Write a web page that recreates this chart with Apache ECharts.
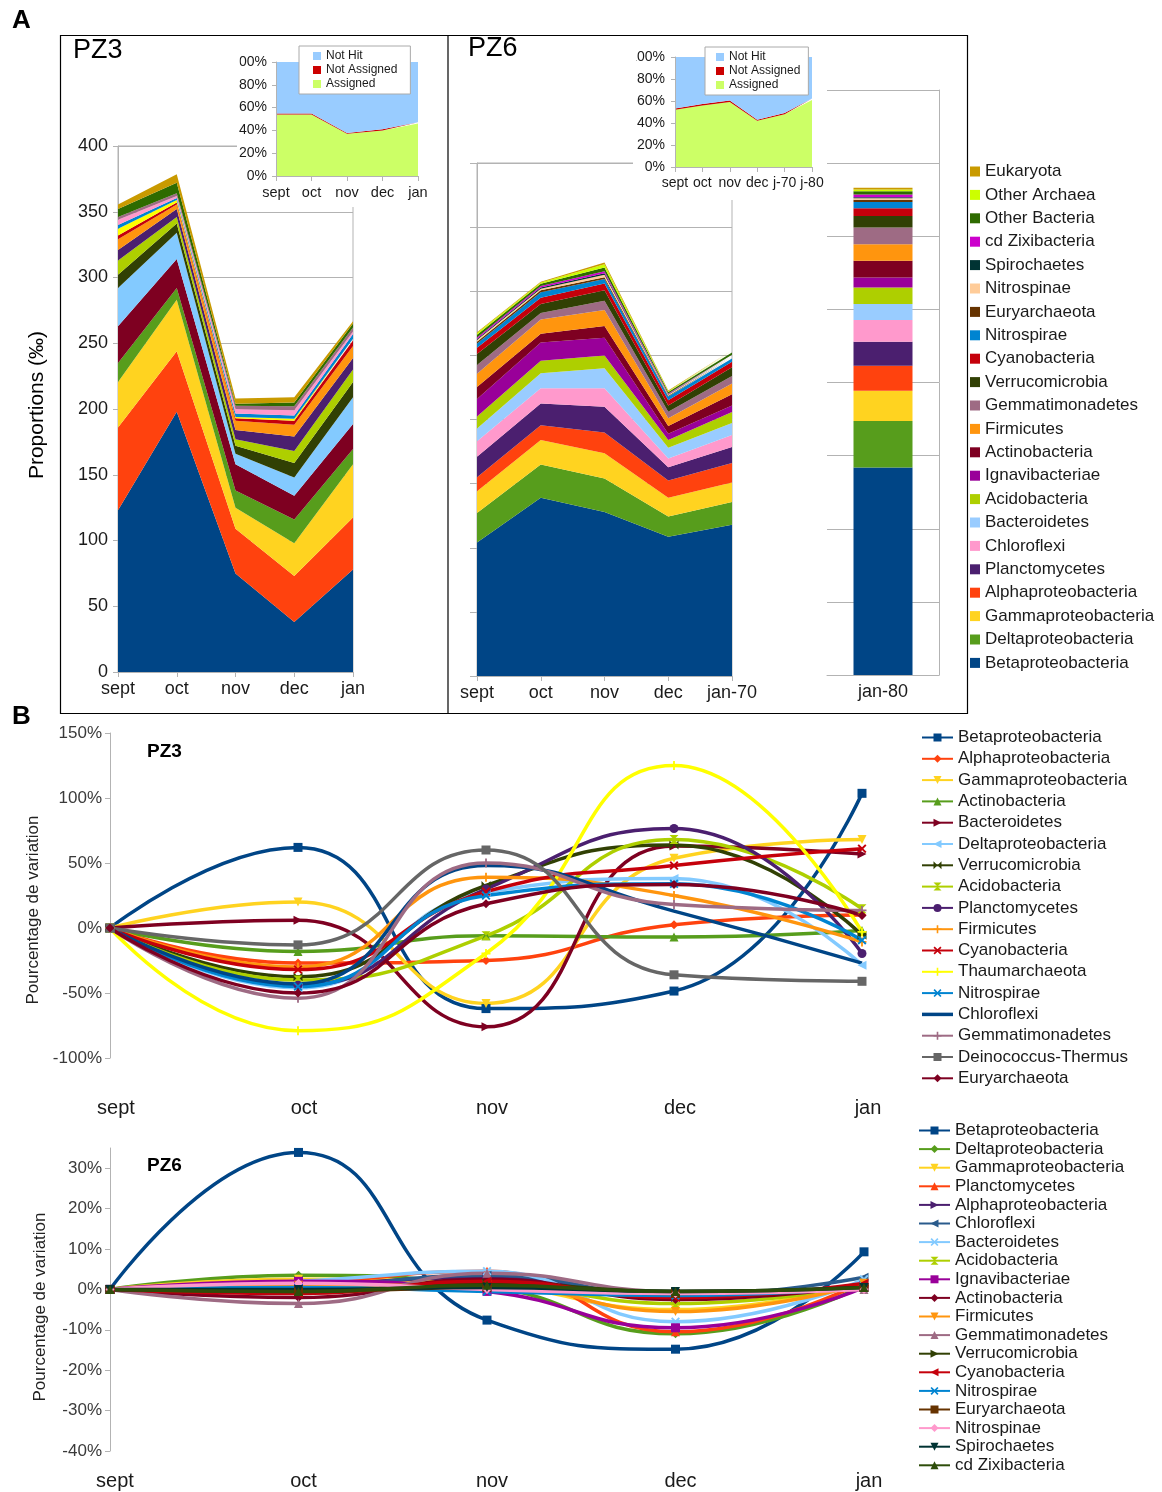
<!DOCTYPE html>
<html>
<head>
<meta charset="utf-8">
<script src="https://cdn.jsdelivr.net/npm/echarts@6/dist/echarts.min.js"></script>
<style>
  html, body { margin: 0; padding: 0; background: #fff; }
  #container { width: 1162px; height: 1492px; }
</style>
</head>
<body>
<div id="container"></div>
<script>
// ---------- panel A : PZ3 stacked proportions (per mille) ----------
const monthsPZ3 = ['sept', 'oct', 'nov', 'dec', 'jan'];
const pz3Taxa = ['Betaproteobacteria', 'Alphaproteobacteria', 'Gammaproteobacteria', 'Actinobacteria',
  'Bacteroidetes', 'Deltaproteobacteria', 'Verrucomicrobia', 'Acidobacteria', 'Planctomycetes',
  'Firmicutes', 'Cyanobacteria', 'Thaumarchaeota', 'Nitrospirae', 'Chloroflexi', 'Gemmatimonadetes',
  'Other Bacteria', 'Eukaryota'];
const pz3Values = [
  [123, 198, 75, 38, 78],
  [63, 46, 34, 35, 39.5],
  [34.6, 39, 16, 25, 40.5],
  [14.4, 9, 13, 18, 11.5],
  [28, 22, 20, 18, 19],
  [29, 20, 8, 14, 20.5],
  [10, 7, 6, 11, 11.6],
  [11, 5, 5, 9, 9.4],
  [8, 6, 7, 11, 8.7],
  [8, 3.6, 7, 9, 9.3],
  [3, 1.4, 2, 3, 4],
  [5, 2, 1, 1.6, 1.5],
  [3, 1.5, 2.5, 2.4, 3.5],
  [4, 1.5, 3.5, 4, 2],
  [2, 2, 2.5, 3, 3],
  [6, 8, 1.5, 3, 3],
  [3.6, 6.6, 4, 4, 1.7]
];
const pz3Colors = ['#004586', '#ff420e', '#ffd320', '#579d1c', '#7e0021', '#83caff', '#314004', '#aecf00',
  '#4b1f6f', '#ff950e', '#c5000b', '#ffff00', '#0084d1', '#ff99cc', '#9e6b84', '#2e6b00', '#c99a00'];

// ---------- panel A : PZ6 stacked proportions + jan-80 bar ----------
const monthsPZ6 = ['sept', 'oct', 'nov', 'dec', 'jan-70'];
const barCategory = ['jan-80'];
const pz6Taxa = ['Betaproteobacteria', 'Deltaproteobacteria', 'Gammaproteobacteria', 'Alphaproteobacteria',
  'Planctomycetes', 'Chloroflexi', 'Bacteroidetes', 'Acidobacteria', 'Ignavibacteriae', 'Actinobacteria',
  'Firmicutes', 'Gemmatimonadetes', 'Verrucomicrobia', 'Cyanobacteria', 'Nitrospirae', 'Euryarchaeota',
  'Nitrospinae', 'Spirochaetes', 'cd Zixibacteria', 'Other Bacteria', 'Other Archaea', 'Eukaryota'];
const pz6Values = [
  [104, 139, 127.8, 108.5, 118],
  [23, 26, 26.2, 15.9, 17.6],
  [17, 19, 19.6, 14.6, 15.2],
  [11, 11.6, 16.2, 13.5, 15.2],
  [16, 16.9, 20.2, 10.2, 12.6],
  [12, 11.9, 14.4, 6.8, 9.4],
  [10, 11.6, 15.6, 8.5, 9.3],
  [9.4, 9.8, 10, 6, 8.5],
  [13.6, 14.2, 13.7, 4.8, 5.2],
  [9.4, 6.8, 9.2, 6.2, 8.7],
  [10.2, 11.2, 12.5, 6, 8.3],
  [6.8, 5, 7.1, 5, 6],
  [8.6, 7, 8.2, 5, 6.7],
  [5, 5, 5.3, 4, 4.3],
  [3.3, 4.3, 3.5, 3, 2.5],
  [1.4, 1.4, 1.5, 0.6, 1],
  [1.3, 1.3, 1.9, 0.7, 1],
  [0.7, 1, 1.1, 0.4, 0.3],
  [1.3, 1, 1.6, 0.6, 0.7],
  [2, 1.8, 3, 1.1, 1.7],
  [1.5, 1, 2.4, 0.6, 1],
  [0.5, 0.7, 1.4, 0.7, 0.8]
];
const jan80Values = [141.8, 31.8, 20.7, 17.2, 16.4, 14.8, 11, 11.3, 6.8, 11.5, 11.3, 11.3, 8, 5.3, 4.2,
  1.5, 1.1, 0.7, 1.8, 2.3, 1.2, 1.2];
const pz6Colors = ['#004586', '#579d1c', '#ffd320', '#ff420e', '#4b1f6f', '#ff99cc', '#99ccff', '#aecf00',
  '#990099', '#7e0021', '#ff950e', '#9e6b84', '#314004', '#c5000b', '#0084d1', '#663300', '#ffcc99',
  '#003333', '#cc00cc', '#2e6b00', '#ccff00', '#c99a00'];

// ---------- insets : assignment rate (%) ----------
const insetMonthsPZ3 = ['sept', 'oct', 'nov', 'dec', 'jan'];
const insetMonthsPZ6 = ['sept', 'oct', 'nov', 'dec', 'j-70', 'j-80'];
const insetLabels = ['Assigned', 'Not Assigned', 'Not Hit'];
const insetPZ3 = [
  [54, 54, 37, 40, 46],
  [0.8, 0.8, 0.8, 1, 1.2],
  [45.2, 45.2, 62.2, 59, 52.8]
];
const insetPZ6 = [
  [52, 56, 59, 42, 48, 61],
  [1.2, 1.2, 1.5, 1, 1, 1.2],
  [46.8, 42.8, 39.5, 57, 51, 37.8]
];
const insetColors = ['#ccff66', '#cc0000', '#99ccff'];

// ---------- panel B : variation (%) ----------
const monthsB = ['sept', 'oct', 'nov', 'dec', 'jan'];
const varPZ3Names = ['Betaproteobacteria', 'Alphaproteobacteria', 'Gammaproteobacteria', 'Actinobacteria',
  'Bacteroidetes', 'Deltaproteobacteria', 'Verrucomicrobia', 'Acidobacteria', 'Planctomycetes', 'Firmicutes',
  'Cyanobacteria', 'Thaumarchaeota', 'Nitrospirae', 'Chloroflexi', 'Gemmatimonadetes', 'Deinococcus-Thermus',
  'Euryarchaeota'];
const varPZ3 = [
  [0, 62, -62, -48.5, 103.6],
  [0, -27, -25, 2.5, 10],
  [0, 20, -58, 53.6, 68],
  [0, -18, -6, -7, -2],
  [0, 6, -76, 63, 57],
  [0, -46, 27.5, 38, -28.6],
  [0, -37.5, 32.7, 63.8, -5.6],
  [0, -40, -6, 68, 14.8],
  [0, -44, 30, 76.5, -19.6],
  [0, -30, 39, 25, -10.7],
  [0, -32, 28, 48, 61],
  [0, -79, -19.6, 125, -3],
  [0, -45, 25, 34, -9.4],
  [0, -43, 48, 13, -27],
  [0, -54, 50, 18, 13.5],
  [0, -13, 60, -36, -41],
  [0, -50, 18.6, 33.4, 9.7]
];
const varPZ3Colors = ['#004586', '#ff420e', '#ffd320', '#579d1c', '#7e0021', '#83caff', '#314004', '#aecf00',
  '#4b1f6f', '#ff950e', '#c5000b', '#ffff00', '#0084d1', '#004586', '#9e6b84', '#666666', '#7e0021'];

const varPZ6Names = ['Betaproteobacteria', 'Deltaproteobacteria', 'Gammaproteobacteria', 'Planctomycetes',
  'Alphaproteobacteria', 'Chloroflexi', 'Bacteroidetes', 'Acidobacteria', 'Ignavibacteriae', 'Actinobacteria',
  'Firmicutes', 'Gemmatimonadetes', 'Verrucomicrobia', 'Cyanobacteria', 'Nitrospirae', 'Euryarchaeota',
  'Nitrospinae', 'Spirochaetes', 'cd Zixibacteria'];
const varPZ6 = [
  [0, 33.9, -7.6, -14.8, 9.3],
  [0, 3.5, 0.7, -11, 1],
  [0, 2.5, 1, -5, 1.5],
  [0, 1.5, 4.5, -10.5, 2],
  [0, 1, 3, -2, 1],
  [0, 0.5, 3.5, -1.5, 3],
  [0, 2, 4.5, -8, 2.5],
  [0, -0.5, 1, -3.5, 1],
  [0, 2, -0.5, -9.5, 0.5],
  [0, -2, 2.5, -2.5, 1],
  [0, 1, 1, -5.5, 1.5],
  [0, -3.5, 4, -0.5, 0],
  [0, -0.5, 1.5, -0.5, 0.5],
  [0, -1, 2, -2, 1.5],
  [0, 0.5, -0.5, -1.5, 0.5],
  [0, -0.5, 0.5, -1, 0.5],
  [0, 1.5, 0, -1, 0],
  [0, 0, 0.5, -0.5, 0.5],
  [0, -0.5, 1, -0.5, 0.5]
];
const varPZ6Colors = ['#004586', '#579d1c', '#ffd320', '#ff420e', '#4b1f6f', '#2a5b8c', '#83caff', '#aecf00',
  '#990099', '#7e0021', '#ff950e', '#9e6b84', '#314004', '#c5000b', '#0084d1', '#663300', '#ff99cc',
  '#003333', '#2e4d0a'];

// marker shapes
const SYM = {
  square: 'rect',
  diamond: 'diamond',
  up: 'triangle',
  down: 'path://M0,0H10L5,10Z',
  right: 'path://M0,0L10,5L0,10Z',
  left: 'path://M10,0L0,5L10,10Z',
  bowtie: 'path://M0,0L5,5L0,10Z M10,0L5,5L10,10Z',
  hourglass: 'path://M0,0H10L5,5Z M0,10H10L5,5Z',
  circle: 'circle',
  plus: 'path://M4,0H6V4H10V6H6V10H4V6H0V4H4Z',
  cross: 'path://M0,1.5L1.5,0L5,3.5L8.5,0L10,1.5L6.5,5L10,8.5L8.5,10L5,6.5L1.5,10L0,8.5L3.5,5Z',
  none: 'none'
};
const varPZ3Symbols = ['square', 'diamond', 'down', 'up', 'right', 'left', 'bowtie', 'hourglass', 'circle',
  'plus', 'cross', 'plus', 'cross', 'none', 'plus', 'square', 'diamond'];
const varPZ6Symbols = ['square', 'diamond', 'down', 'up', 'right', 'left', 'cross', 'hourglass', 'square',
  'diamond', 'down', 'up', 'right', 'left', 'cross', 'square', 'diamond', 'down', 'up'];

const SANS = '"Liberation Sans", Arial, sans-serif';
const GRIDC = '#b3b3b3';
const strip = n => n.split('|')[1];

var dom = document.getElementById('container');
var myChart = echarts.init(dom, null, { renderer: 'canvas' });

function areaSeries(prefix, names, values, colors, axis, stack, z) {
  return names.map((n, i) => ({
    name: prefix + '|' + n,
    type: 'line',
    xAxisIndex: axis, yAxisIndex: axis,
    stack: stack,
    data: values[i],
    symbol: 'none',
    z: z,
    lineStyle: { width: 0 },
    itemStyle: { color: colors[i] },
    areaStyle: { color: colors[i], opacity: 1 },
    emphasis: { disabled: true }
  }));
}

function varSeries(prefix, names, values, colors, symbols, axis) {
  return names.map((n, i) => ({
    name: prefix + '|' + n,
    type: 'line',
    xAxisIndex: axis, yAxisIndex: axis,
    data: values[i],
    smooth: 0.5,
    symbol: SYM[symbols[i]],
    symbolSize: 9,
    showSymbol: symbols[i] !== 'none',
    lineStyle: { width: 3.5, color: colors[i] },
    itemStyle: { color: colors[i] },
    emphasis: { disabled: true }
  }));
}

// legend entries: line-only series get a plain bar icon
function lineLegendData(prefix, names, symbols) {
  return names.map((n, i) => symbols[i] === 'none'
    ? { name: prefix + '|' + n, icon: 'path://M0,0H31V3.5H0Z' }
    : prefix + '|' + n);
}

const barSeries = pz6Taxa.map((n, i) => ({
  name: 'A6|' + n,
  type: 'bar',
  xAxisIndex: 2, yAxisIndex: 2,
  stack: 'jan80',
  barWidth: 59,
  data: [jan80Values[i]],
  itemStyle: { color: pz6Colors[i] },
  emphasis: { disabled: true }
}));

function catAxis(grid, data, opts) {
  return Object.assign({
    type: 'category', gridIndex: grid, data: data, boundaryGap: false,
    axisLine: { show: true, lineStyle: { color: GRIDC } },
    axisTick: { show: true, length: 5, alignWithLabel: true, lineStyle: { color: GRIDC } },
    axisLabel: { color: '#1a1a1a', fontFamily: SANS, fontSize: 18, margin: 8, interval: 0 },
    splitLine: { show: false }
  }, opts || {});
}

option = {
  animation: false,
  backgroundColor: '#fff',
  grid: [
    { left: 118, top: 146, width: 235, height: 526, show: true, borderColor: GRIDC, borderWidth: 1 },
    { left: 477, top: 163, width: 255, height: 513, show: true, borderColor: GRIDC, borderWidth: 1 },
    { left: 827, top: 90, width: 112, height: 585 },
    { left: 276, top: 62, width: 142, height: 114 },
    { left: 675, top: 57, width: 137, height: 110 },
    { left: 110, top: 733, width: 752, height: 325 },
    { left: 110, top: 1148, width: 754, height: 303 }
  ],
  xAxis: [
    catAxis(0, monthsPZ3),
    catAxis(1, monthsPZ6),
    catAxis(2, barCategory, { boundaryGap: true, axisTick: { show: false } }),
    catAxis(3, insetMonthsPZ3, { z: 10, axisLabel: { color: '#1a1a1a', fontFamily: SANS, fontSize: 14.5, margin: 9, interval: 0 } }),
    catAxis(4, insetMonthsPZ6, { z: 10, axisLabel: { color: '#1a1a1a', fontFamily: SANS, fontSize: 14, margin: 9, interval: 0 } }),
    catAxis(5, monthsB, { axisLine: { show: false }, axisTick: { show: false },
      axisLabel: { color: '#1a1a1a', fontFamily: SANS, fontSize: 20, margin: 40, interval: 0, padding: [0, 0, 0, 12] } }),
    catAxis(6, monthsB, { axisLine: { show: false }, axisTick: { show: false },
      axisLabel: { color: '#1a1a1a', fontFamily: SANS, fontSize: 20, margin: 20, interval: 0, padding: [0, 0, 0, 10] } })
  ],
  yAxis: [
    { type: 'value', gridIndex: 0, min: 0, max: 400, interval: 50,
      axisLine: { show: true, lineStyle: { color: GRIDC } },
      axisTick: { show: true, length: 5, lineStyle: { color: GRIDC } },
      axisLabel: { color: '#1a1a1a', fontFamily: SANS, fontSize: 18, margin: 10 },
      splitLine: { lineStyle: { color: GRIDC } } },
    { type: 'value', gridIndex: 1, min: 0, max: 400, interval: 50,
      axisLine: { show: true, lineStyle: { color: GRIDC } },
      axisTick: { show: true, length: 7, lineStyle: { color: GRIDC } },
      axisLabel: { show: false },
      splitLine: { lineStyle: { color: GRIDC } } },
    { type: 'value', gridIndex: 2, min: 0, max: 400, interval: 50, position: 'right',
      axisLine: { show: true, lineStyle: { color: GRIDC } },
      axisTick: { show: false }, axisLabel: { show: false },
      splitLine: { lineStyle: { color: GRIDC } } },
    { type: 'value', gridIndex: 3, min: 0, max: 100, interval: 20, z: 10,
      axisLine: { show: true, lineStyle: { color: GRIDC } },
      axisTick: { show: true, length: 4, lineStyle: { color: GRIDC } },
      axisLabel: { color: '#1a1a1a', fontFamily: SANS, fontSize: 14, margin: 9, formatter: '{value}%' },
      splitLine: { show: false } },
    { type: 'value', gridIndex: 4, min: 0, max: 100, interval: 20, z: 10,
      axisLine: { show: true, lineStyle: { color: GRIDC } },
      axisTick: { show: true, length: 4, lineStyle: { color: GRIDC } },
      axisLabel: { color: '#1a1a1a', fontFamily: SANS, fontSize: 14, margin: 10, formatter: '{value}%' },
      splitLine: { show: false } },
    { type: 'value', gridIndex: 5, min: -100, max: 150, interval: 50,
      axisLine: { show: true, lineStyle: { color: GRIDC } },
      axisTick: { show: true, length: 5, lineStyle: { color: GRIDC } },
      axisLabel: { color: '#3a3a3a', fontFamily: SANS, fontSize: 17, margin: 8, formatter: '{value}%' },
      splitLine: { show: false } },
    { type: 'value', gridIndex: 6, min: -40, max: 35, interval: 10,
      axisLine: { show: true, lineStyle: { color: GRIDC } },
      axisTick: { show: true, length: 5, lineStyle: { color: GRIDC } },
      axisLabel: { color: '#3a3a3a', fontFamily: SANS, fontSize: 17, margin: 8, showMaxLabel: false,
        formatter: v => (v % 10 === 0 ? v + '%' : '') },
      splitLine: { show: false } }
  ],
  legend: [
    { data: pz6Taxa.slice().reverse().map(n => 'A6|' + n), formatter: strip,
      orient: 'vertical', left: 970, top: 163, padding: 0, icon: 'rect', itemWidth: 10, itemHeight: 10, itemGap: 6.4,
      textStyle: { fontFamily: SANS, fontSize: 17, lineHeight: 17, color: '#1a1a1a' }, selectedMode: false },
    { data: insetLabels.slice().reverse().map(n => 'I3|' + n), formatter: strip,
      orient: 'vertical', left: 299, top: 46, icon: 'rect', itemWidth: 8, itemHeight: 8, itemGap: 2,
      padding: [4, 13, 4, 14], backgroundColor: '#fff', borderColor: '#aaaaaa', borderWidth: 1, z: 12,
      textStyle: { fontFamily: SANS, fontSize: 12, lineHeight: 12, color: '#1a1a1a' }, selectedMode: false },
    { data: insetLabels.slice().reverse().map(n => 'I6|' + n), formatter: strip,
      orient: 'vertical', left: 705, top: 47, icon: 'rect', itemWidth: 8, itemHeight: 8, itemGap: 2,
      padding: [4, 8, 4, 11], backgroundColor: '#fff', borderColor: '#aaaaaa', borderWidth: 1, z: 12,
      textStyle: { fontFamily: SANS, fontSize: 12, lineHeight: 12, color: '#1a1a1a' }, selectedMode: false },
    { data: lineLegendData('B3', varPZ3Names, varPZ3Symbols), formatter: strip,
      orient: 'vertical', left: 921, top: 729, padding: 0, itemWidth: 31, itemHeight: 10, itemGap: 4.3,
      textStyle: { fontFamily: SANS, fontSize: 17, lineHeight: 17, color: '#1a1a1a' }, selectedMode: false },
    { data: lineLegendData('B6', varPZ6Names, varPZ6Symbols), formatter: strip,
      orient: 'vertical', left: 918, top: 1122, padding: 0, itemWidth: 31, itemHeight: 10, itemGap: 1.6,
      textStyle: { fontFamily: SANS, fontSize: 17, lineHeight: 17, color: '#1a1a1a' }, selectedMode: false }
  ],
  graphic: [
    // inset backgrounds hide the main grids behind them
    { type: 'rect', z: 5, silent: true, shape: { x: 237, y: 41, width: 205, height: 166 }, style: { fill: '#fff' } },
    { type: 'rect', z: 5, silent: true, shape: { x: 633, y: 41, width: 192, height: 159 }, style: { fill: '#fff' } },
    // the inset boxes are cut on the left
    { type: 'rect', z: 11, silent: true, shape: { x: 224, y: 50, width: 15.5, height: 20 }, style: { fill: '#fff' } },
    { type: 'rect', z: 11, silent: true, shape: { x: 624, y: 46, width: 12, height: 20 }, style: { fill: '#fff' } },
    // panel A frame
    { type: 'rect', z: 20, silent: true, shape: { x: 60.5, y: 35.5, width: 907, height: 678 },
      style: { fill: 'none', stroke: '#000', lineWidth: 1.2 } },
    { type: 'line', z: 20, silent: true, shape: { x1: 448, y1: 35, x2: 448, y2: 713 },
      style: { stroke: '#000', lineWidth: 1.2 } },
    { type: 'text', z: 20, left: 12, top: 8, style: { text: 'A', font: 'bold 26px ' + SANS, fill: '#000' } },
    { type: 'text', z: 20, left: 12, top: 704, style: { text: 'B', font: 'bold 26px ' + SANS, fill: '#000' } },
    { type: 'text', z: 20, left: 73, top: 37, style: { text: 'PZ3', font: '27px ' + SANS, fill: '#000' } },
    { type: 'text', z: 20, left: 468, top: 35, style: { text: 'PZ6', font: '27px ' + SANS, fill: '#000' } },
    { type: 'text', z: 20, x: 37, y: 405, rotation: Math.PI / 2,
      style: { text: 'Proportions (‰)', font: '21px ' + SANS, fill: '#000', align: 'center', verticalAlign: 'middle' } },
    { type: 'text', z: 20, x: 33, y: 910, rotation: Math.PI / 2,
      style: { text: 'Pourcentage de variation', font: '17px ' + SANS, fill: '#222', align: 'center', verticalAlign: 'middle' } },
    { type: 'text', z: 20, x: 40, y: 1307, rotation: Math.PI / 2,
      style: { text: 'Pourcentage de variation', font: '17px ' + SANS, fill: '#222', align: 'center', verticalAlign: 'middle' } },
    { type: 'text', z: 20, left: 147, top: 742, style: { text: 'PZ3', font: 'bold 19px ' + SANS, fill: '#000' } },
    { type: 'text', z: 20, left: 147, top: 1156, style: { text: 'PZ6', font: 'bold 19px ' + SANS, fill: '#000' } }
  ],
  series: [].concat(
    areaSeries('A3', pz3Taxa, pz3Values, pz3Colors, 0, 'pz3', 2),
    areaSeries('A6', pz6Taxa, pz6Values, pz6Colors, 1, 'pz6', 2),
    barSeries,
    areaSeries('I3', insetLabels, insetPZ3, insetColors, 3, 'i3', 10),
    areaSeries('I6', insetLabels, insetPZ6, insetColors, 4, 'i6', 10),
    varSeries('B3', varPZ3Names, varPZ3, varPZ3Colors, varPZ3Symbols, 5),
    varSeries('B6', varPZ6Names, varPZ6, varPZ6Colors, varPZ6Symbols, 6)
  )
};

if (option && typeof option === 'object') {
  myChart.setOption(option);
}
window.addEventListener('resize', myChart.resize);
</script>
</body>
</html>
